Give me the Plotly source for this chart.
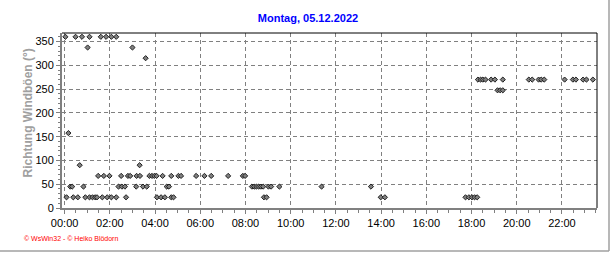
import plotly.graph_objects as go

DAY = "2022-12-05"

times = [
    # 360
    "00:02", "00:29", "00:46", "01:06", "01:36", "01:50", "02:04", "02:17",
    # 337.5 / 315 / 157.5 / 90
    "01:01", "03:00", "03:35", "00:10", "00:40", "03:19",
    # 67.5
    "01:29", "01:44", "01:59", "02:30", "02:48", "02:54", "03:11", "03:20", "03:45", "03:52",
    "03:58", "04:04", "04:20", "04:43", "05:02", "05:09", "05:49", "06:11", "06:29", "07:14",
    "07:53", "07:59",
    # 45
    "00:15", "00:20", "00:50", "02:23", "02:32", "02:40", "03:10", "03:28", "03:38", "04:31",
    "04:37", "08:17", "08:23", "08:29", "08:35", "08:41", "08:47", "09:01", "09:08", "09:30",
    "11:22", "13:33",
    # 22.5
    "00:05", "00:23", "00:35", "00:55", "01:06", "01:14", "01:21", "01:26", "01:40", "01:53",
    "02:04", "02:17", "02:43", "04:05", "04:16", "04:26", "04:43", "04:49", "08:49", "08:56",
    "13:59", "14:10", "17:44", "17:53", "18:01", "18:08", "18:15",
    # 270
    "18:17", "18:24", "18:30", "18:37", "18:52", "19:02", "19:23", "20:32", "20:41", "20:58",
    "21:05", "21:13", "22:07", "22:29", "22:37", "22:56", "23:05", "23:22",
    # 247.5
    "19:09", "19:16", "19:23",
]

directions = (
    [360] * 8
    + [337.5, 337.5, 315, 157.5, 90, 90]
    + [67.5] * 22
    + [45] * 22
    + [22.5] * 27
    + [270] * 18
    + [247.5] * 3
)

y_ticks = [0, 50, 100, 150, 200, 250, 300, 350]
x_range = ["2022-12-04 23:53", "2022-12-05 23:33"]
y_range = [0, 368]

title_text = "Montag, 05.12.2022"
y_title = "Richtung Windböen (°)"
footer = "© WsWin32 - © Heiko Blödorn"

x_vals = [f"{DAY} {t}" for t in times]

FONT = "Liberation Sans, Arial, sans-serif"

fig = go.Figure()
fig.add_trace(go.Scatter(
    x=x_vals, y=directions, mode="markers",
    marker=dict(symbol="diamond", size=4, color="#808080",
                line=dict(color="#202020", width=1)),
    hoverinfo="x+y", showlegend=False,
))

grid = dict(showgrid=True, gridcolor="#808080", gridwidth=1, griddash="4px,3px")

fig.update_layout(
    width=616, height=253,
    margin=dict(l=62, r=19, t=33, b=45),
    paper_bgcolor="white", plot_bgcolor="white",
    font=dict(family=FONT, size=11, color="black"),
    title=dict(text=f"<b>{title_text}</b>", x=0.5, xanchor="center",
               xref="container", yref="container", y=1 - 18.5 / 253, yanchor="middle",
               font=dict(family=FONT, size=11, color="#0000ff")),
    xaxis=dict(
        type="date", range=x_range, tickformat="%H:%M",
        tick0="2022-12-05 00:00", dtick=2 * 3600 * 1000,
        ticks="outside", ticklen=4, tickcolor="#808080",
        showline=True, linecolor="#808080", linewidth=2,
        zeroline=False, tickfont=dict(size=11, color="black"),
        minor=dict(ticks="outside", ticklen=3, tickcolor="#808080",
                   tick0="2022-12-05 00:00", dtick=30 * 60 * 1000, showgrid=False),
        **grid,
    ),
    yaxis=dict(
        range=y_range, tickmode="array", tickvals=y_ticks,
        ticks="outside", ticklen=4, tickcolor="#808080",
        showline=True, linecolor="#808080", linewidth=2,
        zeroline=False, tickfont=dict(size=11, color="black"),
        minor=dict(ticks="outside", ticklen=2, tickcolor="#808080",
                   tick0=0, dtick=10, showgrid=False),
        **grid,
    ),
    shapes=[
        dict(type="line", xref="paper", yref="paper", x0=0, x1=1, y0=1, y1=1,
             line=dict(color="black", width=1)),
        dict(type="line", xref="paper", yref="paper", x0=1, x1=1, y0=0, y1=1,
             line=dict(color="black", width=1)),
        dict(type="line", xref="paper", yref="paper", x0=-0.2, x1=(609 - 62) / 535,
             y0=(208 - 251) / 175, y1=(208 - 251) / 175,
             line=dict(color="#a0a0a0", width=1.5)),
        dict(type="line", xref="paper", yref="paper", x0=(609 - 62) / 535, x1=(609 - 62) / 535,
             y0=(208 - 251) / 175, y1=1.3,
             line=dict(color="#a0a0a0", width=1.5)),
    ],
    annotations=[
        dict(text=f"<b>{y_title}</b>", textangle=-90, xref="paper", yref="paper",
             x=(27 - 62) / 535, y=(208 - 113.5) / 175, xanchor="center", yanchor="middle",
             showarrow=False, font=dict(family=FONT, size=12, color="#a0a0a0")),
        dict(text=footer, xref="paper", yref="paper",
             x=(22 - 62) / 535, y=(208 - 239) / 175, xanchor="left", yanchor="middle",
             showarrow=False, font=dict(family=FONT, size=7, color="#ff0000")),
    ],
)

fig.write_html("out.html")
